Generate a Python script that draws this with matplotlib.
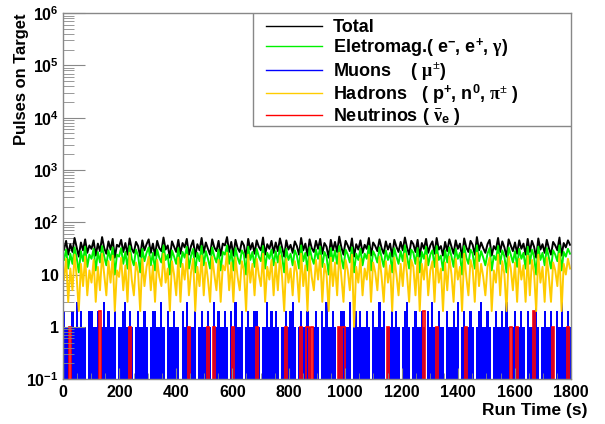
import numpy as np
import matplotlib.pyplot as plt
from matplotlib.patches import Rectangle
from matplotlib.lines import Line2D
from matplotlib.ticker import FixedLocator, LogLocator, NullFormatter

plt.rcParams['font.family'] = ['Liberation Sans', 'DejaVu Sans']
plt.rcParams['font.weight'] = 'bold'
plt.rcParams['mathtext.fontset'] = 'custom'
plt.rcParams['mathtext.rm'] = 'Liberation Serif'
plt.rcParams['mathtext.it'] = 'Liberation Serif:italic'
plt.rcParams['mathtext.bf'] = 'Liberation Sans:bold'
plt.rcParams['path.simplify'] = False

# 240 bins of 7.5 s over the 1800 s run
t_min, t_max = 0, 1800

total = [
    30, 44, 24, 38, 27, 50, 33, 22, 41, 29, 47, 26, 36, 31, 45, 23, 39, 28, 52, 32,
    25, 43, 30, 48, 21, 37, 34, 46, 27, 40, 24, 49, 31, 26, 42, 35, 22, 45, 29, 38,
    47, 26, 39, 23, 44, 32, 28, 51, 30, 36, 21, 43, 34, 27, 46, 25, 40, 33, 48, 24,
    35, 45, 22, 38, 29, 50, 26, 41, 31, 24, 47, 33, 28, 44, 23, 39, 36, 52, 27, 42,
    23, 46, 32, 27, 43, 36, 21, 48, 30, 40, 25, 45, 34, 29, 51, 24, 38, 31, 44, 26,
    41, 28, 49, 33, 22, 45, 30, 37, 26, 43, 35, 24, 50, 29, 39, 23, 47, 32, 27, 44,
    31, 48, 25, 40, 34, 21, 46, 29, 42, 27, 53, 33, 24, 44, 36, 28, 49, 22, 38, 30,
    45, 26, 37, 31, 50, 23, 41, 35, 28, 47, 32, 25, 43, 30, 39, 22, 46, 34, 27, 42,
    29, 51, 33, 24, 44, 38, 27, 46, 22, 40, 31, 48, 26, 36, 43, 25, 50, 30, 35, 23,
    42, 28, 47, 34, 25, 45, 31, 39, 21, 49, 33, 27, 44, 37, 24, 52, 29, 41, 32, 26,
    38, 46, 23, 35, 30, 50, 27, 43, 33, 22, 47, 36, 28, 41, 25, 45, 31, 39, 24, 48,
    27, 44, 34, 21, 49, 30, 38, 26, 46, 32, 24, 42, 36, 29, 51, 23, 40, 33, 45, 37,
]

eletromag = [
    19, 30, 13, 25, 16, 33, 21, 11, 28, 18, 34, 14, 24, 20, 31, 12, 27, 17, 35, 22,
    15, 29, 19, 33, 10, 24, 22, 32, 16, 27, 13, 35, 20, 15, 30, 23, 11, 31, 18, 26,
    33, 15, 26, 12, 30, 21, 17, 36, 19, 24, 10, 29, 22, 16, 32, 14, 27, 21, 34, 13,
    23, 31, 11, 26, 18, 35, 15, 28, 20, 13, 33, 22, 17, 30, 12, 27, 24, 36, 16, 29,
    12, 32, 21, 16, 29, 24, 10, 34, 19, 27, 14, 31, 22, 18, 35, 13, 26, 20, 30, 15,
    28, 17, 34, 22, 11, 31, 19, 25, 15, 29, 23, 13, 36, 18, 26, 12, 33, 21, 16, 30,
    20, 34, 14, 27, 22, 10, 32, 18, 29, 16, 35, 21, 13, 30, 24, 17, 33, 11, 25, 19,
    31, 15, 25, 20, 35, 12, 28, 23, 17, 33, 21, 14, 29, 19, 26, 11, 32, 22, 16, 28,
    18, 36, 22, 13, 30, 26, 16, 32, 11, 27, 20, 34, 15, 24, 29, 14, 35, 19, 23, 12,
    29, 17, 33, 22, 14, 31, 20, 26, 10, 35, 21, 16, 30, 25, 13, 36, 18, 28, 21, 15,
    25, 32, 12, 23, 19, 35, 16, 29, 22, 11, 33, 24, 17, 28, 14, 31, 20, 26, 13, 34,
    16, 30, 22, 10, 34, 19, 26, 15, 32, 21, 13, 29, 24, 18, 36, 12, 27, 22, 31, 25,
]

muons = [
    2, 1, 1, 0, 2, 1, 3, 1, 2, 1, 1, 0, 2, 2, 1, 1, 2, 0, 1, 3,
    1, 2, 1, 1, 2, 0, 1, 1, 2, 3, 1, 2, 1, 0, 1, 2, 1, 1, 2, 1,
    0, 1, 2, 2, 1, 1, 3, 1, 0, 2, 1, 1, 2, 1, 1, 0, 2, 1, 3, 1,
    1, 1, 2, 0, 1, 2, 1, 1, 2, 1, 0, 3, 1, 2, 1, 1, 2, 1, 0, 2,
    1, 3, 1, 1, 2, 0, 1, 2, 1, 1, 2, 2, 1, 0, 1, 1, 3, 1, 2, 1,
    2, 1, 0, 1, 1, 2, 1, 2, 3, 1, 0, 1, 2, 1, 1, 2, 1, 0, 1, 2,
    1, 0, 2, 1, 3, 1, 1, 2, 1, 0, 1, 2, 2, 1, 1, 3, 0, 1, 2, 1,
    2, 1, 1, 2, 1, 0, 2, 1, 1, 3, 1, 2, 0, 1, 1, 2, 1, 2, 1, 0,
    1, 2, 3, 1, 0, 1, 2, 1, 1, 2, 1, 0, 2, 1, 3, 1, 1, 2, 1, 1,
    0, 2, 1, 1, 2, 1, 3, 0, 1, 2, 1, 1, 2, 1, 0, 1, 2, 3, 1, 1,
    2, 1, 0, 1, 2, 1, 1, 2, 1, 3, 1, 0, 1, 2, 1, 1, 2, 1, 0, 2,
    1, 1, 2, 3, 1, 0, 1, 2, 1, 1, 2, 1, 0, 2, 1, 3, 1, 1, 2, 1,
]

hadrons = [
    8, 20, 3, 13, 5, 24, 9, 2, 16, 6, 22, 4, 12, 7, 19, 3, 14, 5, 25, 10,
    4, 18, 7, 23, 2, 12, 9, 21, 5, 15, 3, 26, 8, 4, 17, 11, 2, 20, 6, 14,
    22, 5, 15, 3, 19, 9, 6, 25, 7, 13, 2, 18, 10, 4, 21, 3, 16, 8, 24, 4,
    11, 20, 2, 14, 6, 23, 4, 17, 8, 3, 22, 10, 5, 19, 3, 15, 12, 26, 5, 17,
    3, 21, 9, 5, 18, 12, 2, 24, 7, 16, 4, 20, 10, 6, 25, 3, 14, 8, 19, 4,
    17, 5, 23, 9, 2, 20, 7, 13, 4, 18, 11, 3, 25, 6, 15, 2, 22, 9, 5, 19,
    8, 23, 3, 16, 10, 2, 21, 6, 17, 4, 26, 9, 3, 19, 12, 5, 24, 1, 14, 7,
    20, 4, 13, 8, 24, 3, 17, 11, 5, 22, 9, 3, 18, 7, 15, 2, 21, 10, 4, 16,
    6, 25, 10, 3, 19, 14, 4, 21, 2, 16, 8, 23, 4, 12, 18, 3, 24, 7, 13, 2,
    17, 5, 22, 10, 3, 20, 8, 14, 2, 25, 9, 4, 19, 13, 3, 26, 6, 16, 9, 4,
    14, 21, 2, 12, 7, 24, 4, 18, 10, 2, 22, 13, 5, 17, 3, 20, 8, 15, 3, 23,
    4, 19, 11, 2, 24, 7, 14, 3, 21, 9, 3, 17, 12, 6, 25, 2, 16, 10, 20, 13,
]

neutrinos = [
    0, 0, 0, 1, 0, 0, 0, 0, 0, 0, 0, 0, 0, 0, 0, 0, 0, 2, 0, 0,
    0, 0, 0, 0, 0, 0, 0, 0, 0, 0, 0, 1, 0, 0, 0, 0, 0, 0, 0, 0,
    0, 0, 0, 0, 0, 0, 0, 0, 0, 0, 0, 0, 0, 0, 0, 0, 0, 0, 0, 1,
    0, 0, 0, 0, 0, 0, 0, 0, 1, 0, 0, 1, 0, 0, 0, 0, 0, 0, 0, 0,
    1, 0, 0, 0, 0, 0, 0, 0, 0, 0, 0, 1, 0, 0, 0, 0, 0, 0, 0, 0,
    0, 0, 0, 0, 0, 1, 0, 0, 0, 0, 0, 0, 1, 0, 0, 1, 0, 1, 0, 0,
    0, 0, 0, 0, 0, 0, 0, 0, 0, 0, 1, 0, 1, 0, 0, 0, 0, 0, 0, 0,
    0, 0, 0, 0, 0, 0, 0, 0, 0, 0, 0, 0, 0, 1, 0, 0, 0, 0, 0, 0,
    0, 0, 0, 0, 0, 0, 0, 0, 0, 0, 2, 0, 0, 0, 0, 0, 1, 0, 0, 0,
    0, 0, 0, 0, 0, 0, 0, 0, 0, 0, 1, 0, 0, 0, 0, 0, 0, 0, 0, 0,
    0, 0, 0, 0, 0, 0, 0, 0, 0, 0, 0, 1, 0, 0, 1, 0, 0, 0, 0, 0,
    0, 0, 2, 0, 0, 0, 0, 0, 0, 0, 0, 1, 0, 0, 0, 0, 0, 0, 1, 0,
]

labels = [
    'Total',
    r'Eletromag.( e$^{\mathbf{-}}$, e$^{\mathbf{+}}$, $\mathrm{\gamma}$)',
    r'Muons    ( $\mathrm{\mu^{\pm}}$)',
    r'Hadrons   ( p$^{\mathbf{+}}$, n$^{\mathbf{0}}$, $\mathrm{\pi^{\pm}}$ )',
    r'Neutrinos ( $\bar{\mathrm{\nu}}_{\mathbf{e}}$ )',
]
colors = ['black', '#00f000', '#0000ff', '#ffcc00', '#ff0000']

edges = np.linspace(t_min, t_max, len(total) + 1)
centers = (edges[:-1] + edges[1:]) / 2

fig = plt.figure(figsize=(6.05, 4.24), dpi=100)
ax = fig.add_axes([0.104, 0.106, 0.840, 0.863])
ax.set_yscale('log')

ax.plot(centers, total, color=colors[0], lw=1.4)
ax.plot(centers, eletromag, color=colors[1], lw=1.4)
ax.stairs(muons, edges, color=colors[2], fill=True, lw=0)
ax.plot(centers, hadrons, color=colors[3], lw=1.4)
ax.stairs(neutrinos, edges, color=colors[4], lw=1.2)

ax.set_xlim(t_min, t_max)
ax.set_ylim(0.1, 1e6)

ax.yaxis.set_major_locator(FixedLocator([0.1, 1, 10, 100, 1e3, 1e4, 1e5, 1e6]))
ax.set_yticklabels([r'$\mathbf{10^{-1}}$', '1', '10', r'$\mathbf{10^{2}}$',
                    r'$\mathbf{10^{3}}$', r'$\mathbf{10^{4}}$',
                    r'$\mathbf{10^{5}}$', r'$\mathbf{10^{6}}$'])
ax.yaxis.set_minor_locator(LogLocator(base=10, subs=np.arange(2, 10), numticks=20))
ax.yaxis.set_minor_formatter(NullFormatter())
ax.set_xticks(np.arange(0, 1801, 200))
ax.set_xticks(np.arange(0, 1801, 50), minor=True)

ax.tick_params(axis='y', which='major', direction='in', length=16, color='#888888',
               labelsize=11.5, pad=3)
ax.tick_params(axis='y', which='minor', direction='in', length=8, color='#888888')
ax.tick_params(axis='x', which='major', direction='in', length=8, color='#888888',
               labelsize=11.5, pad=4)
ax.tick_params(axis='x', which='minor', direction='in', length=4, color='#888888')
for s in ax.spines.values():
    s.set_color('#888888')
    s.set_linewidth(1)

ax.set_ylabel('Pulses on Target', fontsize=11.9, fontweight='bold')
ax.yaxis.set_label_coords(-0.066, 1.0)
ax.yaxis.label.set_horizontalalignment('right')
ax.set_xlabel('Run Time (s)', fontsize=12.5, fontweight='bold')
ax.xaxis.set_label_coords(1.033, -0.065)
ax.xaxis.label.set_horizontalalignment('right')

# legend box in ROOT style
ax.add_patch(Rectangle((0.374, 0.691), 0.626, 0.309, transform=ax.transAxes,
                       facecolor='white', edgecolor='#888888', lw=1, zorder=5))
handles = [Line2D([], [], color=c, lw=1) for c in colors]
leg = ax.legend(handles, labels,
                loc='upper left', bbox_to_anchor=(0.385, 1.004),
                frameon=False, fontsize=13.0, handlelength=3.1,
                handletextpad=0.6, labelspacing=0.02, borderaxespad=0)
leg.set_zorder(6)

fig.savefig('out.png', dpi=100)
